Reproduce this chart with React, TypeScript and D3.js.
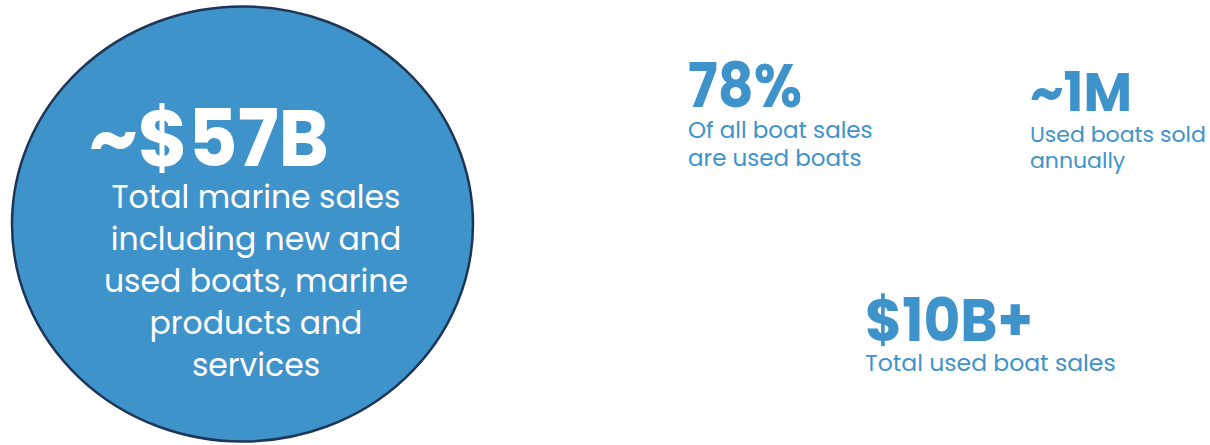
import React from "react";
import * as d3 from "d3";

const W = 1210;
const H = 445;

// Stats content
const mainValue = "~$57B";
const mainCaption = [
  "Total marine sales",
  "including new and",
  "used boats, marine",
  "products and",
  "services",
];
const statValues = ["78%", "~1M", "$10B+"];
const statCaptions = [
  ["Of all boat sales", "are used boats"],
  ["Used boats sold", "annually"],
  ["Total used boat sales"],
];

const BLUE = "#3f93cb";
const NAVY = "#1d3557";
const FONT = "Poppins, Inter, 'Noto Sans', sans-serif";

export default function App() {
  // layout positions
  const circle = { cx: 242.5, cy: 224, rx: 230.5, ry: 217.5 };
  const statPos = [
    { x: 688, y: 107, size: 61, cap: 23, len: 114 },
    { x: 1030, y: 111, size: 55, cap: 22, len: 102 },
    { x: 865, y: 341, size: 59, cap: 23.5, len: 168 },
  ];
  const captionGap = [31, 31, 30];
  const captionLine = [28, 26, 28];

  const lineY = d3.range(mainCaption.length).map((i) => 208 + i * 42);

  return (
    <svg
      width={W}
      height={H}
      viewBox={`0 0 ${W} ${H}`}
      style={{ position: "absolute", left: 0, top: 0, background: "#fff" }}
      fontFamily={FONT}
    >
      <ellipse
        cx={circle.cx}
        cy={circle.cy}
        rx={circle.rx}
        ry={circle.ry}
        fill={BLUE}
        stroke={NAVY}
        strokeWidth={2.5}
      />
      <text
        x={89}
        y={166}
        fill="#fff"
        fontSize={79}
        fontWeight={700}
        textLength={240}
        lengthAdjust="spacingAndGlyphs"
      >
        {mainValue}
      </text>
      {mainCaption.map((t, i) => (
        <text
          key={t}
          x={256}
          y={lineY[i]}
          fill="#fff"
          fontSize={31.5}
          fontWeight={400}
          textAnchor="middle"
        >
          {t}
        </text>
      ))}
      {statValues.map((v, i) => (
        <g key={v}>
          <text
            x={statPos[i].x}
            y={statPos[i].y}
            fill={BLUE}
            fontSize={statPos[i].size}
            fontWeight={700}
            textLength={statPos[i].len}
            lengthAdjust="spacingAndGlyphs"
          >
            {v}
          </text>
          {statCaptions[i].map((c, j) => (
            <text
              key={c}
              x={statPos[i].x}
              y={statPos[i].y + captionGap[i] + j * captionLine[i]}
              fill={BLUE}
              fontSize={statPos[i].cap}
              fontWeight={400}
            >
              {c}
            </text>
          ))}
        </g>
      ))}
    </svg>
  );
}
